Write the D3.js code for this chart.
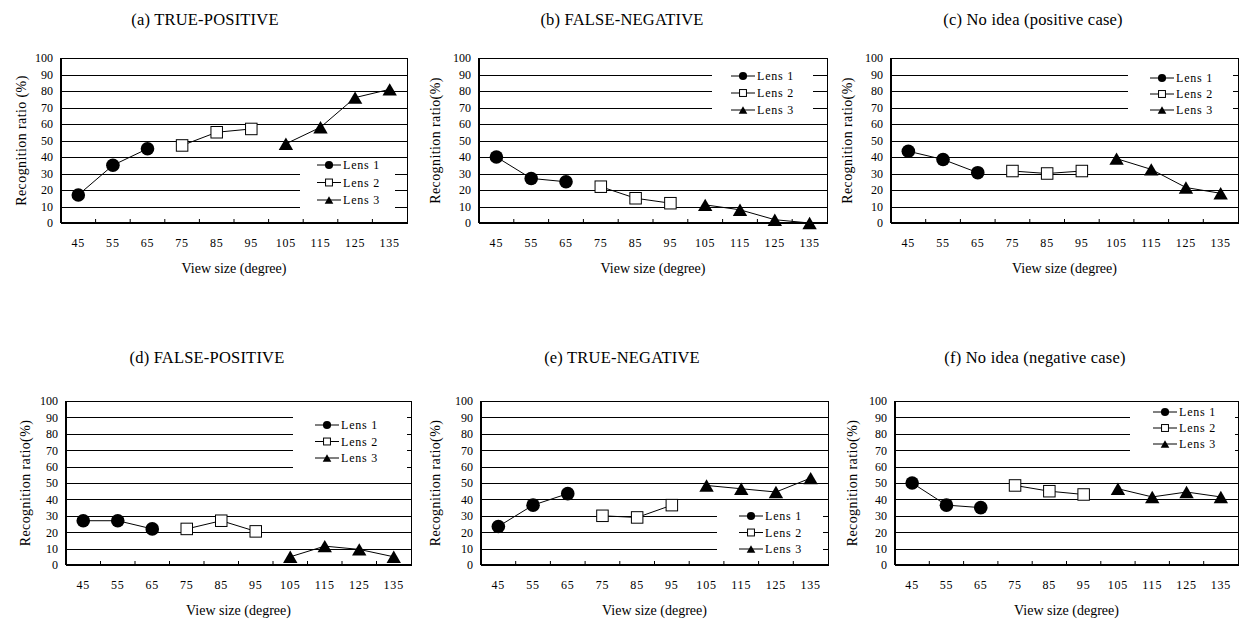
<!DOCTYPE html>
<html>
<head>
<meta charset="utf-8">
<title>Recognition ratio by view size</title>
<script src="https://cdn.jsdelivr.net/npm/d3@7"></script>
<style>
body { margin: 0; background: #fff; }
svg text { font-family: "Liberation Serif", "Times New Roman", serif; fill: #000; }
.title { font-size: 16.5px; letter-spacing: 0.2px; text-anchor: middle; }
.tick text { font-size: 12px; letter-spacing: 0.8px; }
.ylab { font-size: 14px; letter-spacing: 0.4px; text-anchor: middle; }
.xlab { font-size: 14px; letter-spacing: 0px; text-anchor: middle; }
.leg { font-size: 12px; letter-spacing: 0.8px; }
</style>
</head>
<body>
<svg id="chart" width="1240" height="622"></svg>
<script>
// view sizes (degree) and the lens used for each of them
var viewSizes = [45, 55, 65, 75, 85, 95, 105, 115, 125, 135];
var lensOf    = [1, 1, 1, 2, 2, 2, 3, 3, 3, 3];
var lensNames = ["Lens 1", "Lens 2", "Lens 3"];
var yTicks    = [0, 10, 20, 30, 40, 50, 60, 70, 80, 90, 100];

// recognition ratio (%)
var truePositive   = [17, 35, 45, 47, 55, 57, 48, 58, 76, 81];
var falseNegative  = [40, 27, 25, 22, 15, 12, 11, 8, 2, 0];
var noIdeaPositive = [43.5, 38.5, 30.5, 31.5, 30, 31.5, 39, 32.5, 21.5, 18];
var falsePositive  = [27, 27, 22, 22, 27, 20.5, 5, 11.5, 9.5, 5];
var trueNegative   = [23.5, 36.5, 43.5, 30, 29, 36.5, 48.5, 46.5, 44.5, 53];
var noIdeaNegative = [50, 36.5, 35, 48.5, 45, 43, 46.5, 41.5, 44.5, 41.5];

// panel placement (layout only)
var panels = [
  {title: "(a) TRUE-POSITIVE", values: truePositive, ylab: "Recognition ratio (%)",
   x: 61, y: 58, w: 346, h: 165, tx: 205, ty: 25, yl: -40,
   leg: {bx: 239, by: 100, bw: 95, bh: 56, mx: 268, r0: 107, dy: 17.5}},
  {title: "(b) FALSE-NEGATIVE", values: falseNegative, ylab: "Recognition ratio(%)",
   x: 479, y: 58, w: 348, h: 165, tx: 622, ty: 25, yl: -44,
   leg: {bx: 233, by: 9, bw: 101, bh: 48, mx: 264, r0: 18, dy: 17}},
  {title: "(c) No idea (positive case)", values: noIdeaPositive, ylab: "Recognition ratio(%)",
   x: 891, y: 58, w: 347, h: 165, tx: 1033, ty: 25, yl: -44,
   leg: {bx: 237, by: 9, bw: 105, bh: 48, mx: 271, r0: 20, dy: 16}},
  {title: "(d) FALSE-POSITIVE", values: falsePositive, ylab: "Recognition ratio(%)",
   x: 66, y: 401, w: 345, h: 164, tx: 207, ty: 363, yl: -41,
   leg: {bx: 227, by: 9, bw: 114, bh: 60, mx: 261, r0: 24, dy: 16.5}},
  {title: "(e) TRUE-NEGATIVE", values: trueNegative, ylab: "Recognition ratio(%)",
   x: 481, y: 401, w: 347, h: 164, tx: 622, ty: 363, yl: -46,
   leg: {bx: 236, by: 101, bw: 106, bh: 60, mx: 270, r0: 115, dy: 16.5}},
  {title: "(f) No idea (negative case)", values: noIdeaNegative, ylab: "Recognition ratio(%)",
   x: 895, y: 401, w: 343, h: 164, tx: 1035, ty: 363, yl: -43,
   leg: {bx: 235, by: 4, bw: 105, bh: 48, mx: 270, r0: 11, dy: 16}}
];

var svg = d3.select("#chart");

function drawMarker(g, lens, cx, cy, big) {
  var s = big ? 1 : 0.6;
  if (lens === 1) {
    g.append("circle").attr("cx", cx).attr("cy", cy).attr("r", 6.8 * s).attr("fill", "#000");
  } else if (lens === 2) {
    var a = 11.5 * s;
    g.append("rect").attr("x", cx - a / 2).attr("y", cy - a / 2).attr("width", a).attr("height", a)
      .attr("fill", "#fff").attr("stroke", "#000").attr("stroke-width", 1);
  } else {
    var hw = 7.2 * s, hh = 6.2 * s;
    g.append("path")
      .attr("d", "M" + cx + "," + (cy - hh) + "L" + (cx + hw) + "," + (cy + hh) + "L" + (cx - hw) + "," + (cy + hh) + "Z")
      .attr("fill", "#000");
  }
}

panels.forEach(function (p) {
  var x = d3.scaleBand().domain(viewSizes).range([0, p.w]).padding(0);
  var y = d3.scaleLinear().domain([0, 100]).range([p.h, 0]);
  var cx = function (v) { return x(v) + x.bandwidth() / 2; };

  svg.append("text").attr("class", "title").attr("x", p.tx).attr("y", p.ty).text(p.title);

  var g = svg.append("g").attr("transform", "translate(" + p.x + "," + p.y + ")");

  // gridlines + y labels
  var ya = g.append("g").call(d3.axisLeft(y).tickValues(yTicks).tickSize(-p.w).tickPadding(8));
  ya.select(".domain").remove();
  ya.selectAll(".tick line").attr("stroke", "#000").attr("stroke-width", 1).attr("shape-rendering", "crispEdges");
  ya.selectAll(".tick text").style("font-size", "12px").style("letter-spacing", "0px");

  // legend background hides the gridlines behind it
  var L = p.leg;
  g.append("rect").attr("x", L.bx).attr("y", L.by).attr("width", L.bw).attr("height", L.bh).attr("fill", "#fff");

  // x labels at band centres
  var xa = g.append("g").attr("transform", "translate(0," + p.h + ")")
    .call(d3.axisBottom(x).tickSize(0).tickPadding(15));
  xa.select(".domain").remove();

  // frame and inner ticks between categories
  g.append("rect").attr("width", p.w).attr("height", p.h).attr("fill", "none")
    .attr("stroke", "#000").attr("stroke-width", 1).attr("shape-rendering", "crispEdges");
  g.append("line").attr("x1", 0).attr("x2", 0).attr("y1", 0).attr("y2", p.h)
    .attr("stroke", "#000").attr("stroke-width", 2);
  g.append("line").attr("x1", 0).attr("x2", p.w).attr("y1", p.h).attr("y2", p.h)
    .attr("stroke", "#000").attr("stroke-width", 2);
  g.selectAll(".xtick").data(viewSizes.slice(1)).enter().append("line")
    .attr("x1", function (d) { return x(d); }).attr("x2", function (d) { return x(d); })
    .attr("y1", p.h).attr("y2", p.h - 4).attr("stroke", "#000").attr("stroke-width", 1);

  // series
  var line = d3.line().x(function (d) { return cx(d.v); }).y(function (d) { return y(d.r); });
  [1, 2, 3].forEach(function (lens) {
    var pts = viewSizes.map(function (v, i) { return {v: v, r: p.values[i], lens: lensOf[i]}; })
      .filter(function (d) { return d.lens === lens; });
    g.append("path").datum(pts).attr("d", line).attr("fill", "none").attr("stroke", "#000").attr("stroke-width", 1);
    pts.forEach(function (d) { drawMarker(g, lens, cx(d.v), y(d.r), true); });
  });

  // legend
  lensNames.forEach(function (name, i) {
    var ry = L.r0 + i * L.dy;
    g.append("line").attr("x1", L.mx - 12).attr("x2", L.mx + 12).attr("y1", ry).attr("y2", ry)
      .attr("stroke", "#000").attr("stroke-width", 1);
    drawMarker(g, i + 1, L.mx, ry, false);
    g.append("text").attr("class", "leg").attr("x", L.mx + 14).attr("y", ry + 4).text(name);
  });

  // axis titles
  g.append("text").attr("class", "xlab").attr("x", p.w / 2).attr("y", p.h + 50).text("View size (degree)");
  g.append("text").attr("class", "ylab")
    .attr("transform", "translate(" + p.yl + "," + (p.h / 2) + ") rotate(-90)")
    .attr("y", 5).text(p.ylab);
});
</script>
</body>
</html>
